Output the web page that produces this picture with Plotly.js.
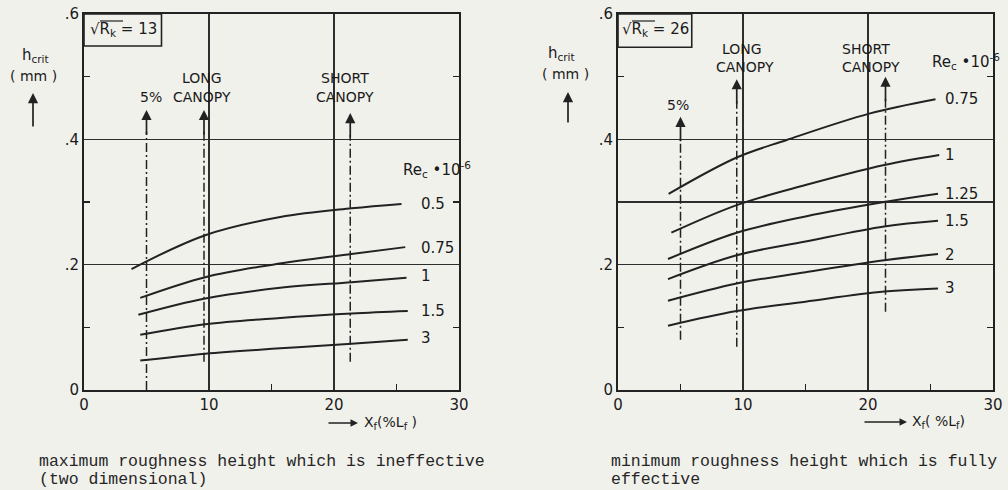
<!DOCTYPE html>
<html><head><meta charset="utf-8">
<script src="https://cdn.plot.ly/plotly-3.0.1.min.js"></script>
<style>html,body{margin:0;padding:0;background:#f1f1ec;}#chart{width:1008px;height:490px;}</style>
</head><body><div id="chart"></div>
<script>
// ---- Left panel data (sqrt(Rk) = 13) ----
const leftLabels = ["0.5", "0.75", "1", "1.5", "3"];
const left_05_x  = [3.8, 9.7, 15.7, 21.4, 25.4];
const left_05_y  = [0.193, 0.247, 0.276, 0.290, 0.297];
const left_075_x = [4.5, 9.7, 15.1, 21.4, 25.7];
const left_075_y = [0.147, 0.180, 0.200, 0.217, 0.228];
const left_1_x   = [4.35, 9.7, 15.7, 21.4, 25.8];
const left_1_y   = [0.120, 0.146, 0.163, 0.172, 0.179];
const left_15_x  = [4.5, 9.7, 15.7, 21.4, 25.9];
const left_15_y  = [0.088, 0.105, 0.115, 0.122, 0.126];
const left_3_x   = [4.5, 9.7, 15.7, 21.4, 25.9];
const left_3_y   = [0.047, 0.058, 0.0665, 0.074, 0.080];

// ---- Right panel data (sqrt(Rk) = 26) ----
const rightLabels = ["0.75", "1", "1.25", "1.5", "2", "3"];
const right_075_x = [4.05, 9.5, 13.5, 20.1, 25.4];
const right_075_y = [0.313, 0.371, 0.399, 0.441, 0.464];
const right_1_x   = [4.27, 9.5, 15.0, 21.3, 25.7];
const right_1_y   = [0.251, 0.295, 0.327, 0.359, 0.375];
const right_125_x = [4.0, 9.5, 15.0, 21.3, 25.6];
const right_125_y = [0.209, 0.251, 0.277, 0.300, 0.313];
const right_15_x  = [4.0, 9.5, 15.0, 21.3, 25.6];
const right_15_y  = [0.177, 0.215, 0.237, 0.261, 0.270];
const right_2_x   = [4.0, 9.5, 15.0, 21.3, 25.6];
const right_2_y   = [0.1425, 0.170, 0.188, 0.207, 0.217];
const right_3_x   = [4.0, 9.5, 15.0, 21.3, 25.6];
const right_3_y   = [0.1026, 0.126, 0.141, 0.157, 0.162];

// ---- Reference (transition) lines: 5%, long canopy, short canopy ----
const leftRefX    = [5.0, 9.6, 21.3];
const leftRefLow  = [0.0, 0.045, 0.045];
const leftRefHigh = [0.447, 0.447, 0.442];
const rightRefX    = [5.0, 9.5, 21.4];
const rightRefLow  = [0.08, 0.069, 0.125];
const rightRefHigh = [0.436, 0.496, 0.50];

// ---- Axis ticks ----
const xTickVals = [0, 10, 20, 30];
const xTickText = ["0", "10", "20", "30"];
const xMinor = [5, 15, 25];
const yTickValsL = [0, 0.2, 0.4, 0.6];
const yTickTextL = ["0", ".2", ".4", ".6"];
const yTickValsR = [0, 0.2, 0.3, 0.4, 0.6];
const yTickTextR = ["0", ".2", "", ".4", ".6"];
const yMinorL = [0.1, 0.3, 0.5];
const yMinorR = [0.1, 0.5];

const W = 1008, H = 490;
const PX = v => v / W, PY = v => 1 - v / H;
const INK = '#222222';
const GRID = '#2e2e2e';
const FONT = 'DejaVu Sans';
const TXT = '#1a1a1a';

const traces = [];
function curve(x, y, xa, ya) {
  traces.push({x: x, y: y, xaxis: xa, yaxis: ya, type: 'scatter', mode: 'lines',
    line: {shape: 'spline', smoothing: 1, color: INK, width: 2}, hoverinfo: 'skip'});
}
[[left_05_x,left_05_y],[left_075_x,left_075_y],[left_1_x,left_1_y],[left_15_x,left_15_y],[left_3_x,left_3_y]]
  .forEach(c => curve(c[0], c[1], 'x', 'y'));
[[right_075_x,right_075_y],[right_1_x,right_1_y],[right_125_x,right_125_y],[right_15_x,right_15_y],[right_2_x,right_2_y],[right_3_x,right_3_y]]
  .forEach(c => curve(c[0], c[1], 'x2', 'y2'));

function refLines(xs, lo, hi, xa, ya) {
  xs.forEach((x, i) => {
    traces.push({x: [x, x], y: [lo[i], hi[i] - 0.035], xaxis: xa, yaxis: ya, type: 'scatter', mode: 'lines',
      line: {color: INK, width: 1.5, dash: '9px,3px,2px,3px'}, hoverinfo: 'skip'});
  });
}
refLines(leftRefX, leftRefLow, leftRefHigh, 'x', 'y');
refLines(rightRefX, rightRefLow, rightRefHigh, 'x2', 'y2');

function xAxis(dom) {
  return {domain: dom, range: [0, 30], tickvals: xTickVals, ticktext: xTickText,
    showgrid: true, gridcolor: GRID, gridwidth: 1.6, zeroline: false,
    showline: true, mirror: true, linecolor: INK, linewidth: 2, ticks: '',
    minor: {tickvals: xMinor, ticks: 'inside', ticklen: 6, tickcolor: INK, tickwidth: 1.4, showgrid: false},
    tickfont: {family: FONT, size: 15, color: TXT}, fixedrange: true};
}
function yAxis(tv, tt, mn, anchor) {
  return {domain: [PY(390), PY(14)], range: [0, 0.6], tickvals: tv, ticktext: tt, anchor: anchor,
    showgrid: true, gridcolor: GRID, gridwidth: 1.6, zeroline: false,
    showline: true, mirror: 'allticks', linecolor: INK, linewidth: 2, ticks: '',
    minor: {tickvals: mn, ticks: 'inside', ticklen: 6, tickcolor: INK, tickwidth: 1.4, showgrid: false},
    tickfont: {family: FONT, size: 15, color: TXT}, fixedrange: true};
}

const ann = [];
function txt(x, y, t, opts) {
  ann.push(Object.assign({xref: 'paper', yref: 'paper', x: PX(x), y: PY(y), text: t, showarrow: false,
    xanchor: 'center', yanchor: 'middle', font: {family: FONT, size: 14, color: TXT}}, opts || {}));
}
function arrowUp(xa, ya, x, yTip) {
  ann.push({xref: xa, yref: ya, x: x, y: yTip, ax: 0, ay: 26, text: '', showarrow: true,
    arrowhead: 2, arrowsize: 1.2, arrowwidth: 1.7, arrowcolor: INK});
}
leftRefX.forEach((x, i) => arrowUp('x', 'y', x, leftRefHigh[i]));
rightRefX.forEach((x, i) => arrowUp('x2', 'y2', x, rightRefHigh[i]));

const F15 = {family: FONT, size: 15, color: TXT};
// Left panel texts
txt(202, 78, 'LONG'); txt(202, 97, 'CANOPY'); txt(151, 97, '5%');
txt(345, 78, 'SHORT'); txt(345, 97, 'CANOPY');
txt(123, 30, '√R<sub>k</sub> = 13', {font: F15});
txt(437, 170, 'Re<sub>c</sub> •10<sup>-6</sup>', {font: F15});
txt(35, 55, 'h<sub>crit</sub>', {font: F15}); txt(33, 76, '( mm )');
const leftLabY = [204, 248, 276, 311, 338];
leftLabels.forEach((l, i) => txt(419, leftLabY[i], l, {xanchor: 'left', font: F15}));

// Right panel texts
txt(742, 49, 'LONG'); txt(745, 67, 'CANOPY'); txt(678, 105, '5%');
txt(866, 49, 'SHORT'); txt(871, 67, 'CANOPY');
txt(655, 30, '√R<sub>k</sub> = 26', {font: F15});
txt(930, 62, 'Re<sub>c</sub> •10<sup>-6</sup>', {xanchor: 'left', font: F15});
txt(561, 54, 'h<sub>crit</sub>', {font: F15}); txt(565, 74, '( mm )');
const rightLabY = [99, 155, 194, 221, 255, 288];
rightLabels.forEach((l, i) => txt(943, rightLabY[i], l, {xanchor: 'left', font: F15}));

// y-axis arrows
ann.push({xref: 'paper', yref: 'paper', x: PX(33), y: PY(93), ax: 0, ay: 35, text: '', showarrow: true, arrowhead: 2, arrowsize: 1.2, arrowwidth: 1.7, arrowcolor: INK});
ann.push({xref: 'paper', yref: 'paper', x: PX(568), y: PY(92), ax: 0, ay: 32, text: '', showarrow: true, arrowhead: 2, arrowsize: 1.2, arrowwidth: 1.7, arrowcolor: INK});
// x-axis title arrows
ann.push({xref: 'paper', yref: 'paper', x: PX(358), y: PY(423), ax: -31, ay: 0, text: '', showarrow: true, arrowhead: 2, arrowsize: 1, arrowwidth: 1.5, arrowcolor: INK});
ann.push({xref: 'paper', yref: 'paper', x: PX(907), y: PY(422), ax: -44, ay: 0, text: '', showarrow: true, arrowhead: 2, arrowsize: 1, arrowwidth: 1.5, arrowcolor: INK});
txt(362, 423, 'X<sub>f</sub>(%L<sub>f</sub> )', {xanchor: 'left'});
txt(910, 422, 'X<sub>f</sub>( %L<sub>f</sub>)', {xanchor: 'left'});

// Captions
const CAP = {family: 'Liberation Mono', size: 16.5, color: '#262626'};
txt(37, 461, 'maximum roughness height which is ineffective', {xanchor: 'left', font: CAP});
txt(37, 479, '(two dimensional)', {xanchor: 'left', font: CAP});
txt(609, 461, 'minimum roughness height which is fully', {xanchor: 'left', font: CAP});
txt(609, 479, 'effective', {xanchor: 'left', font: CAP});

const shapes = [
  {type: 'rect', xref: 'x', yref: 'y', x0: 0, x1: 6.2, y0: 0.549, y1: 0.6, line: {color: INK, width: 1.6}},
  {type: 'rect', xref: 'x2', yref: 'y2', x0: 0, x1: 5.9, y0: 0.547, y1: 0.6, line: {color: INK, width: 1.6}},
  // vinculum of the square-root signs
  {type: 'line', xref: 'paper', yref: 'paper', x0: PX(100), x1: PX(123), y0: PY(21), y1: PY(21), line: {color: INK, width: 1.2}},
  {type: 'line', xref: 'paper', yref: 'paper', x0: PX(632), x1: PX(655), y0: PY(21), y1: PY(21), line: {color: INK, width: 1.2}}
];

const layout = {
  width: W, height: H, margin: {l: 0, r: 0, t: 0, b: 0},
  paper_bgcolor: '#f1f1ec', plot_bgcolor: '#f1f1ec', showlegend: false,
  xaxis: Object.assign(xAxis([PX(84), PX(459)]), {anchor: 'y'}),
  yaxis: yAxis(yTickValsL, yTickTextL, yMinorL, 'x'),
  xaxis2: Object.assign(xAxis([PX(618), PX(993)]), {anchor: 'y2'}),
  yaxis2: yAxis(yTickValsR, yTickTextR, yMinorR, 'x2'),
  annotations: ann, shapes: shapes
};
Plotly.newPlot('chart', traces, layout, {displayModeBar: false, staticPlot: true});
</script></body></html>
